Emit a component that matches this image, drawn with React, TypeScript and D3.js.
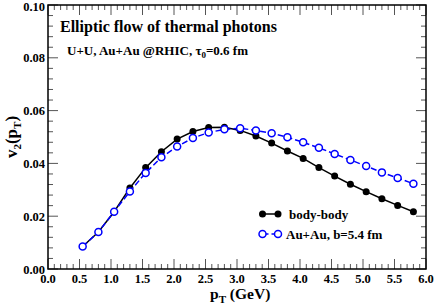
import React from "react";
import * as d3 from "d3";

const pt = [0.55, 0.8, 1.05, 1.3, 1.55, 1.8, 2.05, 2.3, 2.55, 2.8, 3.05, 3.3, 3.55, 3.8, 4.05, 4.3, 4.55, 4.8, 5.05, 5.3, 5.55, 5.8];
const bodyBody = [0.0085, 0.014, 0.0217, 0.0307, 0.0384, 0.0444, 0.0492, 0.0521, 0.0536, 0.0537, 0.0525, 0.0504, 0.0477, 0.0447, 0.0419, 0.0384, 0.0352, 0.0321, 0.0293, 0.0266, 0.0241, 0.0217];
const auAu = [0.0085, 0.014, 0.0217, 0.0294, 0.0364, 0.0423, 0.0464, 0.0496, 0.0517, 0.0529, 0.0533, 0.0525, 0.0514, 0.0499, 0.048, 0.0459, 0.0436, 0.0413, 0.039, 0.0366, 0.0345, 0.0323];
const xTicks = [0, 0.5, 1, 1.5, 2, 2.5, 3, 3.5, 4, 4.5, 5, 5.5, 6];
const yTicks = [0, 0.02, 0.04, 0.06, 0.08, 0.1];
const seriesNames = ["body-body", "Au+Au, b=5.4 fm"];

const W = 436, H = 305;
const L = 48, R = 426, T = 5, B = 269;
const font = "Liberation Serif, Times New Roman, DejaVu Serif, serif";

export default function App() {
  const x = d3.scaleLinear().domain([0, 6]).range([L, R]);
  const y = d3.scaleLinear().domain([0, 0.1]).range([B, T]);
  const line = d3.line<number>().x((d, i) => x(pt[i])).y((d) => y(d));
  const xMinor = d3.range(0, 61).map((i) => i / 10).filter((v) => Math.abs(v * 2 - Math.round(v * 2)) > 1e-6);
  const yMinor = d3.range(0, 26).map((i) => i * 0.004).filter((v) => Math.abs(v * 50 - Math.round(v * 50)) > 1e-6);
  const major = 10, minor = 5;
  const tc = "#555";
  return (
    <svg width={W} height={H} style={{ position: "absolute", left: 0, top: 0, fontFamily: font }}>
      <rect x={0} y={0} width={W} height={H} fill="white" />
      {xTicks.map((v) => (
        <g key={"xt" + v} stroke={tc} strokeWidth={1}>
          <line x1={x(v)} x2={x(v)} y1={B} y2={B - major} />
          <line x1={x(v)} x2={x(v)} y1={T} y2={T + major} />
        </g>
      ))}
      {xMinor.map((v) => (
        <g key={"xm" + v} stroke={tc} strokeWidth={1}>
          <line x1={x(v)} x2={x(v)} y1={B} y2={B - minor} />
          <line x1={x(v)} x2={x(v)} y1={T} y2={T + minor} />
        </g>
      ))}
      {yTicks.map((v) => (
        <g key={"yt" + v} stroke={tc} strokeWidth={1}>
          <line x1={L} x2={L + major} y1={y(v)} y2={y(v)} />
          <line x1={R} x2={R - major} y1={y(v)} y2={y(v)} />
        </g>
      ))}
      {yMinor.map((v) => (
        <g key={"ym" + v} stroke={tc} strokeWidth={1}>
          <line x1={L} x2={L + minor} y1={y(v)} y2={y(v)} />
          <line x1={R} x2={R - minor} y1={y(v)} y2={y(v)} />
        </g>
      ))}
      <rect x={L} y={T} width={R - L} height={B - T} fill="none" stroke="black" strokeWidth={1.5} />
      {xTicks.map((v) => (
        <text key={"xl" + v} x={x(v)} y={B + 14} textAnchor="middle" fontSize={12.5} fontWeight="bold">
          {v.toFixed(1)}
        </text>
      ))}
      {yTicks.map((v) => (
        <text key={"yl" + v} x={L - 3} y={Math.max(y(v) + 4.5, 11)} textAnchor="end" fontSize={12.5} fontWeight="bold">
          {v.toFixed(2)}
        </text>
      ))}
      <text x={x(3.05)} y={299} textAnchor="middle" fontSize={15.5} fontWeight="bold">
        p<tspan fontSize={11} dy={4}>T</tspan>
        <tspan dy={-4}> (GeV)</tspan>
      </text>
      <text transform={`translate(17, ${y(0.05)}) rotate(-90)`} textAnchor="middle" fontSize={17} fontWeight="bold">
        v<tspan fontSize={11} dy={4}>2</tspan>
        <tspan dy={-4}>(p</tspan>
        <tspan fontSize={11} dy={4}>T</tspan>
        <tspan dy={-4}>)</tspan>
      </text>
      <text x={60} y={32} fontSize={16} fontWeight="bold">Elliptic flow of thermal photons</text>
      <text x={67} y={55} fontSize={13} fontWeight="bold">
        U+U, Au+Au @RHIC, τ<tspan fontSize={9} dy={3}>0</tspan>
        <tspan dy={-3}>=0.6 fm</tspan>
      </text>
      <path d={line(bodyBody) || ""} fill="none" stroke="black" strokeWidth={1.5} />
      {bodyBody.map((v, i) => (
        <circle key={"b" + i} cx={x(pt[i])} cy={y(v)} r={3.5} fill="black" />
      ))}
      <path d={line(auAu) || ""} fill="none" stroke="#0000ff" strokeWidth={1.5} strokeDasharray="6,3" />
      {auAu.map((v, i) => (
        <circle key={"a" + i} cx={x(pt[i])} cy={y(v)} r={3.5} fill="white" stroke="#0000ff" strokeWidth={1.5} />
      ))}
      <line x1={262.5} x2={278} y1={214} y2={214} stroke="black" strokeWidth={1.5} />
      <circle cx={262.5} cy={214} r={3.5} fill="black" />
      <circle cx={278} cy={214} r={3.5} fill="black" />
      <text x={289} y={218.5} fontSize={13} fontWeight="bold">{seriesNames[0]}</text>
      <line x1={262.5} x2={278} y1={234} y2={234} stroke="#0000ff" strokeWidth={1.5} strokeDasharray="6,3" />
      <circle cx={262.5} cy={234} r={3.5} fill="white" stroke="#0000ff" strokeWidth={1.5} />
      <circle cx={278} cy={234} r={3.5} fill="white" stroke="#0000ff" strokeWidth={1.5} />
      <text x={286} y={238.5} fontSize={13} fontWeight="bold">{seriesNames[1]}</text>
    </svg>
  );
}
